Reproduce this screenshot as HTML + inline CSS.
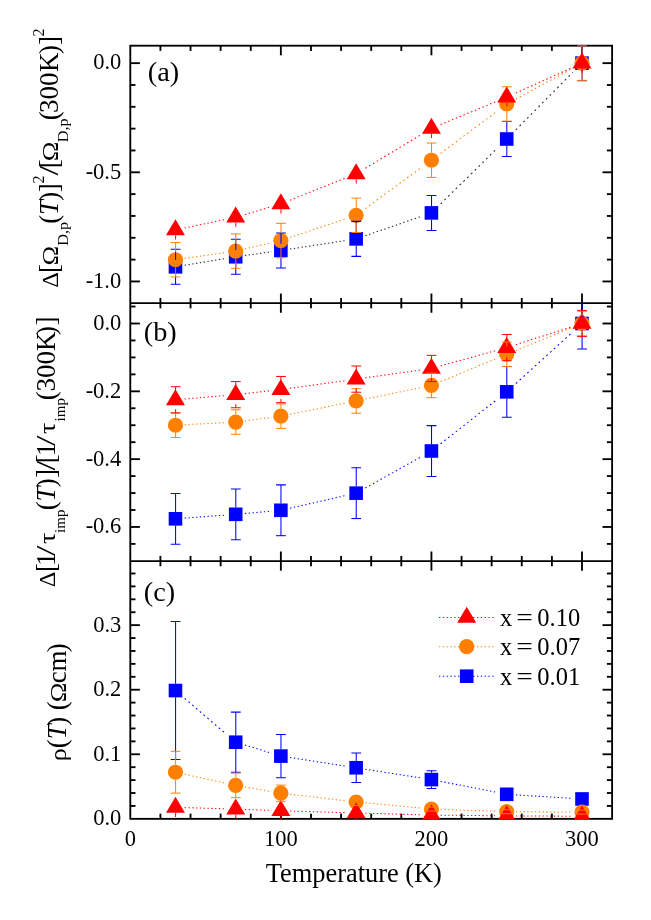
<!DOCTYPE html>
<html><head><meta charset="utf-8"><title>Figure</title>
<style>html,body{margin:0;padding:0;background:#fff;}body{width:651px;height:920px;position:relative;overflow:hidden;font-family:"Liberation Serif",serif;}</style>
</head><body>
<svg width="651" height="920" viewBox="0 0 651 920" style="display:block;position:absolute;left:0;top:0">
<rect x="0" y="0" width="651" height="920" fill="#fff"/>
<defs>
<clipPath id="ca"><rect x="130.3" y="45.10" width="481.8" height="259.05"/></clipPath>
<clipPath id="cb"><rect x="130.3" y="302.55" width="481.8" height="259.55"/></clipPath>
<clipPath id="cc"><rect x="130.3" y="560.50" width="481.8" height="259.35"/></clipPath>
</defs>
<g stroke="#000" stroke-width="1.85" fill="none" stroke-linecap="butt">
<rect x="130.3" y="45.7" width="481.8" height="773.15"/>
<line x1="130.3" x2="612.1" y1="303.15" y2="303.15"/>
<line x1="130.3" x2="612.1" y1="561.1" y2="561.1"/>
<line x1="160.41" x2="160.41" y1="45.7" y2="50.90"/>
<line x1="160.41" x2="160.41" y1="297.95" y2="308.35"/>
<line x1="160.41" x2="160.41" y1="555.90" y2="566.30"/>
<line x1="160.41" x2="160.41" y1="813.65" y2="818.85"/>
<line x1="190.53" x2="190.53" y1="45.7" y2="50.90"/>
<line x1="190.53" x2="190.53" y1="297.95" y2="308.35"/>
<line x1="190.53" x2="190.53" y1="555.90" y2="566.30"/>
<line x1="190.53" x2="190.53" y1="813.65" y2="818.85"/>
<line x1="220.64" x2="220.64" y1="45.7" y2="50.90"/>
<line x1="220.64" x2="220.64" y1="297.95" y2="308.35"/>
<line x1="220.64" x2="220.64" y1="555.90" y2="566.30"/>
<line x1="220.64" x2="220.64" y1="813.65" y2="818.85"/>
<line x1="250.75" x2="250.75" y1="45.7" y2="50.90"/>
<line x1="250.75" x2="250.75" y1="297.95" y2="308.35"/>
<line x1="250.75" x2="250.75" y1="555.90" y2="566.30"/>
<line x1="250.75" x2="250.75" y1="813.65" y2="818.85"/>
<line x1="280.86" x2="280.86" y1="45.7" y2="55.30"/>
<line x1="280.86" x2="280.86" y1="293.55" y2="312.75"/>
<line x1="280.86" x2="280.86" y1="551.50" y2="570.70"/>
<line x1="280.86" x2="280.86" y1="809.25" y2="818.85"/>
<line x1="310.98" x2="310.98" y1="45.7" y2="50.90"/>
<line x1="310.98" x2="310.98" y1="297.95" y2="308.35"/>
<line x1="310.98" x2="310.98" y1="555.90" y2="566.30"/>
<line x1="310.98" x2="310.98" y1="813.65" y2="818.85"/>
<line x1="341.09" x2="341.09" y1="45.7" y2="50.90"/>
<line x1="341.09" x2="341.09" y1="297.95" y2="308.35"/>
<line x1="341.09" x2="341.09" y1="555.90" y2="566.30"/>
<line x1="341.09" x2="341.09" y1="813.65" y2="818.85"/>
<line x1="371.20" x2="371.20" y1="45.7" y2="50.90"/>
<line x1="371.20" x2="371.20" y1="297.95" y2="308.35"/>
<line x1="371.20" x2="371.20" y1="555.90" y2="566.30"/>
<line x1="371.20" x2="371.20" y1="813.65" y2="818.85"/>
<line x1="401.31" x2="401.31" y1="45.7" y2="50.90"/>
<line x1="401.31" x2="401.31" y1="297.95" y2="308.35"/>
<line x1="401.31" x2="401.31" y1="555.90" y2="566.30"/>
<line x1="401.31" x2="401.31" y1="813.65" y2="818.85"/>
<line x1="431.43" x2="431.43" y1="45.7" y2="55.30"/>
<line x1="431.43" x2="431.43" y1="293.55" y2="312.75"/>
<line x1="431.43" x2="431.43" y1="551.50" y2="570.70"/>
<line x1="431.43" x2="431.43" y1="809.25" y2="818.85"/>
<line x1="461.54" x2="461.54" y1="45.7" y2="50.90"/>
<line x1="461.54" x2="461.54" y1="297.95" y2="308.35"/>
<line x1="461.54" x2="461.54" y1="555.90" y2="566.30"/>
<line x1="461.54" x2="461.54" y1="813.65" y2="818.85"/>
<line x1="491.65" x2="491.65" y1="45.7" y2="50.90"/>
<line x1="491.65" x2="491.65" y1="297.95" y2="308.35"/>
<line x1="491.65" x2="491.65" y1="555.90" y2="566.30"/>
<line x1="491.65" x2="491.65" y1="813.65" y2="818.85"/>
<line x1="521.76" x2="521.76" y1="45.7" y2="50.90"/>
<line x1="521.76" x2="521.76" y1="297.95" y2="308.35"/>
<line x1="521.76" x2="521.76" y1="555.90" y2="566.30"/>
<line x1="521.76" x2="521.76" y1="813.65" y2="818.85"/>
<line x1="551.88" x2="551.88" y1="45.7" y2="50.90"/>
<line x1="551.88" x2="551.88" y1="297.95" y2="308.35"/>
<line x1="551.88" x2="551.88" y1="555.90" y2="566.30"/>
<line x1="551.88" x2="551.88" y1="813.65" y2="818.85"/>
<line x1="581.99" x2="581.99" y1="45.7" y2="55.30"/>
<line x1="581.99" x2="581.99" y1="293.55" y2="312.75"/>
<line x1="581.99" x2="581.99" y1="551.50" y2="570.70"/>
<line x1="581.99" x2="581.99" y1="809.25" y2="818.85"/>
<line x1="130.3" x2="135.50" y1="84.98" y2="84.98"/>
<line x1="606.90" x2="612.1" y1="84.98" y2="84.98"/>
<line x1="130.3" x2="135.50" y1="106.81" y2="106.81"/>
<line x1="606.90" x2="612.1" y1="106.81" y2="106.81"/>
<line x1="130.3" x2="135.50" y1="128.64" y2="128.64"/>
<line x1="606.90" x2="612.1" y1="128.64" y2="128.64"/>
<line x1="130.3" x2="135.50" y1="150.47" y2="150.47"/>
<line x1="606.90" x2="612.1" y1="150.47" y2="150.47"/>
<line x1="130.3" x2="135.50" y1="194.13" y2="194.13"/>
<line x1="606.90" x2="612.1" y1="194.13" y2="194.13"/>
<line x1="130.3" x2="135.50" y1="215.96" y2="215.96"/>
<line x1="606.90" x2="612.1" y1="215.96" y2="215.96"/>
<line x1="130.3" x2="135.50" y1="237.79" y2="237.79"/>
<line x1="606.90" x2="612.1" y1="237.79" y2="237.79"/>
<line x1="130.3" x2="135.50" y1="259.62" y2="259.62"/>
<line x1="606.90" x2="612.1" y1="259.62" y2="259.62"/>
<line x1="130.3" x2="139.90" y1="63.15" y2="63.15"/>
<line x1="602.50" x2="612.1" y1="63.15" y2="63.15"/>
<line x1="130.3" x2="139.90" y1="172.30" y2="172.30"/>
<line x1="602.50" x2="612.1" y1="172.30" y2="172.30"/>
<line x1="130.3" x2="139.90" y1="281.45" y2="281.45"/>
<line x1="602.50" x2="612.1" y1="281.45" y2="281.45"/>
<line x1="130.3" x2="135.50" y1="306.55" y2="306.55"/>
<line x1="606.90" x2="612.1" y1="306.55" y2="306.55"/>
<line x1="130.3" x2="135.50" y1="340.45" y2="340.45"/>
<line x1="606.90" x2="612.1" y1="340.45" y2="340.45"/>
<line x1="130.3" x2="135.50" y1="357.41" y2="357.41"/>
<line x1="606.90" x2="612.1" y1="357.41" y2="357.41"/>
<line x1="130.3" x2="135.50" y1="374.37" y2="374.37"/>
<line x1="606.90" x2="612.1" y1="374.37" y2="374.37"/>
<line x1="130.3" x2="135.50" y1="408.27" y2="408.27"/>
<line x1="606.90" x2="612.1" y1="408.27" y2="408.27"/>
<line x1="130.3" x2="135.50" y1="425.23" y2="425.23"/>
<line x1="606.90" x2="612.1" y1="425.23" y2="425.23"/>
<line x1="130.3" x2="135.50" y1="442.19" y2="442.19"/>
<line x1="606.90" x2="612.1" y1="442.19" y2="442.19"/>
<line x1="130.3" x2="135.50" y1="476.10" y2="476.10"/>
<line x1="606.90" x2="612.1" y1="476.10" y2="476.10"/>
<line x1="130.3" x2="135.50" y1="493.05" y2="493.05"/>
<line x1="606.90" x2="612.1" y1="493.05" y2="493.05"/>
<line x1="130.3" x2="135.50" y1="510.00" y2="510.00"/>
<line x1="606.90" x2="612.1" y1="510.00" y2="510.00"/>
<line x1="130.3" x2="135.50" y1="543.91" y2="543.91"/>
<line x1="606.90" x2="612.1" y1="543.91" y2="543.91"/>
<line x1="130.3" x2="139.90" y1="323.50" y2="323.50"/>
<line x1="602.50" x2="612.1" y1="323.50" y2="323.50"/>
<line x1="130.3" x2="139.90" y1="391.32" y2="391.32"/>
<line x1="602.50" x2="612.1" y1="391.32" y2="391.32"/>
<line x1="130.3" x2="139.90" y1="459.14" y2="459.14"/>
<line x1="602.50" x2="612.1" y1="459.14" y2="459.14"/>
<line x1="130.3" x2="139.90" y1="526.96" y2="526.96"/>
<line x1="602.50" x2="612.1" y1="526.96" y2="526.96"/>
<line x1="130.3" x2="135.50" y1="805.94" y2="805.94"/>
<line x1="606.90" x2="612.1" y1="805.94" y2="805.94"/>
<line x1="130.3" x2="135.50" y1="793.02" y2="793.02"/>
<line x1="606.90" x2="612.1" y1="793.02" y2="793.02"/>
<line x1="130.3" x2="135.50" y1="780.11" y2="780.11"/>
<line x1="606.90" x2="612.1" y1="780.11" y2="780.11"/>
<line x1="130.3" x2="135.50" y1="767.19" y2="767.19"/>
<line x1="606.90" x2="612.1" y1="767.19" y2="767.19"/>
<line x1="130.3" x2="135.50" y1="741.37" y2="741.37"/>
<line x1="606.90" x2="612.1" y1="741.37" y2="741.37"/>
<line x1="130.3" x2="135.50" y1="728.45" y2="728.45"/>
<line x1="606.90" x2="612.1" y1="728.45" y2="728.45"/>
<line x1="130.3" x2="135.50" y1="715.54" y2="715.54"/>
<line x1="606.90" x2="612.1" y1="715.54" y2="715.54"/>
<line x1="130.3" x2="135.50" y1="702.62" y2="702.62"/>
<line x1="606.90" x2="612.1" y1="702.62" y2="702.62"/>
<line x1="130.3" x2="135.50" y1="676.80" y2="676.80"/>
<line x1="606.90" x2="612.1" y1="676.80" y2="676.80"/>
<line x1="130.3" x2="135.50" y1="663.88" y2="663.88"/>
<line x1="606.90" x2="612.1" y1="663.88" y2="663.88"/>
<line x1="130.3" x2="135.50" y1="650.97" y2="650.97"/>
<line x1="606.90" x2="612.1" y1="650.97" y2="650.97"/>
<line x1="130.3" x2="135.50" y1="638.05" y2="638.05"/>
<line x1="606.90" x2="612.1" y1="638.05" y2="638.05"/>
<line x1="130.3" x2="135.50" y1="612.23" y2="612.23"/>
<line x1="606.90" x2="612.1" y1="612.23" y2="612.23"/>
<line x1="130.3" x2="135.50" y1="599.31" y2="599.31"/>
<line x1="606.90" x2="612.1" y1="599.31" y2="599.31"/>
<line x1="130.3" x2="135.50" y1="586.40" y2="586.40"/>
<line x1="606.90" x2="612.1" y1="586.40" y2="586.40"/>
<line x1="130.3" x2="135.50" y1="573.48" y2="573.48"/>
<line x1="606.90" x2="612.1" y1="573.48" y2="573.48"/>
<line x1="130.3" x2="139.90" y1="754.28" y2="754.28"/>
<line x1="602.50" x2="612.1" y1="754.28" y2="754.28"/>
<line x1="130.3" x2="139.90" y1="689.71" y2="689.71"/>
<line x1="602.50" x2="612.1" y1="689.71" y2="689.71"/>
<line x1="130.3" x2="139.90" y1="625.14" y2="625.14"/>
<line x1="602.50" x2="612.1" y1="625.14" y2="625.14"/>
</g>
<g clip-path="url(#ca)">
<g stroke="#222222" stroke-width="1.05" fill="none"><line x1="184.67" y1="265.29" x2="226.49" y2="258.32" stroke-dasharray="1.32 2.53"/><line x1="244.89" y1="255.49" x2="271.66" y2="251.74" stroke-dasharray="1.31 2.52"/><line x1="290.06" y1="249.04" x2="346.94" y2="240.30" stroke-dasharray="1.32 2.53"/><line x1="365.34" y1="235.71" x2="422.23" y2="216.08" stroke-dasharray="1.38 2.64"/><line x1="440.62" y1="203.87" x2="497.51" y2="148.04" stroke-dasharray="1.82 3.50"/><line x1="515.84" y1="129.81" x2="572.86" y2="72.35" stroke-dasharray="1.83 3.52"/></g>
<rect x="168.67" y="260.02" width="13.6" height="13.6" fill="#0000ff"/>
<rect x="228.89" y="249.98" width="13.6" height="13.6" fill="#0000ff"/>
<rect x="274.06" y="243.65" width="13.6" height="13.6" fill="#0000ff"/>
<rect x="349.34" y="232.08" width="13.6" height="13.6" fill="#0000ff"/>
<rect x="424.62" y="206.10" width="13.6" height="13.6" fill="#0000ff"/>
<rect x="499.91" y="132.21" width="13.6" height="13.6" fill="#0000ff"/>
<rect x="575.19" y="56.35" width="13.6" height="13.6" fill="#0000ff"/>
<g stroke="#ff8000" stroke-width="1.05" fill="none"><line x1="184.67" y1="258.41" x2="226.49" y2="252.42" stroke-dasharray="1.31 2.53"/><line x1="244.89" y1="248.95" x2="271.66" y2="242.68" stroke-dasharray="1.34 2.57"/><line x1="290.06" y1="237.44" x2="346.94" y2="218.39" stroke-dasharray="1.37 2.64"/><line x1="365.34" y1="208.57" x2="422.23" y2="166.96" stroke-dasharray="1.61 3.10"/><line x1="440.62" y1="153.35" x2="497.51" y2="110.85" stroke-dasharray="1.62 3.12"/><line x1="515.91" y1="98.98" x2="572.79" y2="68.14" stroke-dasharray="1.48 2.84"/></g>
<circle cx="175.47" cy="259.73" r="7.6" fill="#ff8000"/>
<circle cx="235.69" cy="251.11" r="7.6" fill="#ff8000"/>
<circle cx="280.86" cy="240.52" r="7.6" fill="#ff8000"/>
<circle cx="356.14" cy="215.31" r="7.6" fill="#ff8000"/>
<circle cx="431.43" cy="160.23" r="7.6" fill="#ff8000"/>
<circle cx="506.71" cy="103.97" r="7.6" fill="#ff8000"/>
<circle cx="581.99" cy="63.15" r="7.6" fill="#ff8000"/>
<g stroke="#ff0000" stroke-width="1.05" fill="none"><line x1="184.67" y1="228.00" x2="226.49" y2="219.20" stroke-dasharray="1.33 2.55"/><line x1="244.89" y1="214.54" x2="271.66" y2="206.58" stroke-dasharray="1.36 2.61"/><line x1="290.06" y1="200.18" x2="346.94" y2="177.50" stroke-dasharray="1.40 2.69"/><line x1="365.34" y1="168.28" x2="422.23" y2="133.97" stroke-dasharray="1.52 2.92"/><line x1="440.62" y1="124.61" x2="497.51" y2="101.02" stroke-dasharray="1.41 2.71"/><line x1="515.91" y1="93.04" x2="572.79" y2="67.31" stroke-dasharray="1.43 2.74"/></g>
<g stroke="#0000ff" stroke-width="1.05" fill="none" opacity="1.0"><line x1="175.57" x2="175.57" y1="249.32" y2="260.02"/><line x1="175.57" x2="175.57" y1="273.62" y2="284.32"/><line x1="170.67" x2="180.47" y1="249.32" y2="249.32"/><line x1="170.67" x2="180.47" y1="284.32" y2="284.32"/></g>
<g stroke="#0000ff" stroke-width="1.05" fill="none" opacity="1.0"><line x1="235.79" x2="235.79" y1="239.28" y2="249.98"/><line x1="235.79" x2="235.79" y1="263.58" y2="274.28"/><line x1="230.89" x2="240.69" y1="239.28" y2="239.28"/><line x1="230.89" x2="240.69" y1="274.28" y2="274.28"/></g>
<g stroke="#0000ff" stroke-width="1.05" fill="none" opacity="1.0"><line x1="280.96" x2="280.96" y1="232.95" y2="243.65"/><line x1="280.96" x2="280.96" y1="257.25" y2="267.95"/><line x1="276.06" x2="285.86" y1="232.95" y2="232.95"/><line x1="276.06" x2="285.86" y1="267.95" y2="267.95"/></g>
<g stroke="#0000ff" stroke-width="1.05" fill="none" opacity="1.0"><line x1="356.24" x2="356.24" y1="221.38" y2="232.08"/><line x1="356.24" x2="356.24" y1="245.68" y2="256.38"/><line x1="351.34" x2="361.14" y1="221.38" y2="221.38"/><line x1="351.34" x2="361.14" y1="256.38" y2="256.38"/></g>
<g stroke="#0000ff" stroke-width="1.05" fill="none" opacity="1.0"><line x1="431.53" x2="431.53" y1="195.40" y2="206.10"/><line x1="431.53" x2="431.53" y1="219.70" y2="230.40"/><line x1="426.63" x2="436.43" y1="195.40" y2="195.40"/><line x1="426.63" x2="436.43" y1="230.40" y2="230.40"/></g>
<g stroke="#0000ff" stroke-width="1.05" fill="none" opacity="1.0"><line x1="506.81" x2="506.81" y1="121.51" y2="132.21"/><line x1="506.81" x2="506.81" y1="145.81" y2="156.51"/><line x1="501.91" x2="511.71" y1="121.51" y2="121.51"/><line x1="501.91" x2="511.71" y1="156.51" y2="156.51"/></g>
<g stroke="#0000ff" stroke-width="1.05" fill="none" opacity="1.0"><line x1="582.09" x2="582.09" y1="45.65" y2="56.35"/><line x1="582.09" x2="582.09" y1="69.95" y2="80.65"/><line x1="577.19" x2="586.99" y1="45.65" y2="45.65"/><line x1="577.19" x2="586.99" y1="80.65" y2="80.65"/></g>
<g stroke="#ff8000" stroke-width="1.05" fill="none" opacity="0.95"><line x1="175.57" x2="175.57" y1="242.53" y2="252.13"/><line x1="175.57" x2="175.57" y1="267.33" y2="276.93"/><line x1="170.67" x2="180.47" y1="242.53" y2="242.53"/><line x1="170.67" x2="180.47" y1="276.93" y2="276.93"/></g>
<g stroke="#ff8000" stroke-width="1.05" fill="none" opacity="0.95"><line x1="235.79" x2="235.79" y1="233.91" y2="243.51"/><line x1="235.79" x2="235.79" y1="258.71" y2="268.31"/><line x1="230.89" x2="240.69" y1="233.91" y2="233.91"/><line x1="230.89" x2="240.69" y1="268.31" y2="268.31"/></g>
<g stroke="#ff8000" stroke-width="1.05" fill="none" opacity="0.95"><line x1="280.96" x2="280.96" y1="223.32" y2="232.92"/><line x1="280.96" x2="280.96" y1="248.12" y2="257.72"/><line x1="276.06" x2="285.86" y1="223.32" y2="223.32"/><line x1="276.06" x2="285.86" y1="257.72" y2="257.72"/></g>
<g stroke="#ff8000" stroke-width="1.05" fill="none" opacity="0.95"><line x1="356.24" x2="356.24" y1="198.11" y2="207.71"/><line x1="356.24" x2="356.24" y1="222.91" y2="232.51"/><line x1="351.34" x2="361.14" y1="198.11" y2="198.11"/><line x1="351.34" x2="361.14" y1="232.51" y2="232.51"/></g>
<g stroke="#ff8000" stroke-width="1.05" fill="none" opacity="0.95"><line x1="431.53" x2="431.53" y1="143.03" y2="152.63"/><line x1="431.53" x2="431.53" y1="167.83" y2="177.43"/><line x1="426.63" x2="436.43" y1="143.03" y2="143.03"/><line x1="426.63" x2="436.43" y1="177.43" y2="177.43"/></g>
<g stroke="#ff8000" stroke-width="1.05" fill="none" opacity="0.95"><line x1="506.81" x2="506.81" y1="86.77" y2="96.37"/><line x1="506.81" x2="506.81" y1="111.57" y2="121.17"/><line x1="501.91" x2="511.71" y1="86.77" y2="86.77"/><line x1="501.91" x2="511.71" y1="121.17" y2="121.17"/></g>
<g stroke="#ff8000" stroke-width="1.05" fill="none" opacity="0.95"><line x1="582.09" x2="582.09" y1="45.95" y2="55.55"/><line x1="582.09" x2="582.09" y1="70.75" y2="80.35"/><line x1="577.19" x2="586.99" y1="45.95" y2="45.95"/><line x1="577.19" x2="586.99" y1="80.35" y2="80.35"/></g>
<polygon points="175.47,219.26 165.97,235.26 184.97,235.26" fill="#ff0000"/>
<polygon points="235.69,206.60 226.19,222.60 245.19,222.60" fill="#ff0000"/>
<polygon points="280.86,193.18 271.36,209.18 290.36,209.18" fill="#ff0000"/>
<polygon points="356.14,163.16 346.64,179.16 365.64,179.16" fill="#ff0000"/>
<polygon points="431.43,117.76 421.93,133.76 440.93,133.76" fill="#ff0000"/>
<polygon points="506.71,86.54 497.21,102.54 516.21,102.54" fill="#ff0000"/>
<polygon points="581.99,52.48 572.49,68.48 591.49,68.48" fill="#ff0000"/>
<g stroke="#ff0000" stroke-width="1.05" fill="none" opacity="0.95"><line x1="175.57" x2="175.57" y1="235.26" y2="239.53"/></g>
<g stroke="#ff0000" stroke-width="1.05" fill="none" opacity="0.95"><line x1="235.79" x2="235.79" y1="222.60" y2="226.87"/></g>
<g stroke="#ff0000" stroke-width="1.05" fill="none" opacity="0.95"><line x1="280.96" x2="280.96" y1="209.18" y2="213.44"/></g>
<g stroke="#ff0000" stroke-width="1.05" fill="none" opacity="0.95"><line x1="356.24" x2="356.24" y1="179.16" y2="183.43"/></g>
<g stroke="#ff0000" stroke-width="1.05" fill="none" opacity="0.95"><line x1="431.53" x2="431.53" y1="133.76" y2="138.02"/></g>
<g stroke="#ff0000" stroke-width="1.05" fill="none" opacity="0.95"><line x1="506.81" x2="506.81" y1="102.54" y2="106.80"/></g>
<g stroke="#ff0000" stroke-width="1.05" fill="none" opacity="0.95"><line x1="582.09" x2="582.09" y1="68.48" y2="72.75"/></g>
</g>
<g clip-path="url(#cb)">
<g stroke="#0000ff" stroke-width="1.05" fill="none"><line x1="184.67" y1="518.13" x2="226.49" y2="515.00" stroke-dasharray="1.30 2.51"/><line x1="244.89" y1="513.49" x2="271.66" y2="511.10" stroke-dasharray="1.31 2.51"/><line x1="290.06" y1="508.18" x2="346.94" y2="495.24" stroke-dasharray="1.33 2.56"/><line x1="365.34" y1="488.00" x2="422.23" y2="456.15" stroke-dasharray="1.49 2.87"/><line x1="440.62" y1="443.77" x2="497.51" y2="399.09" stroke-dasharray="1.65 3.18"/><line x1="515.91" y1="383.51" x2="572.79" y2="331.85" stroke-dasharray="1.76 3.38"/></g>
<rect x="168.67" y="512.02" width="13.6" height="13.6" fill="#0000ff"/>
<rect x="228.89" y="507.51" width="13.6" height="13.6" fill="#0000ff"/>
<rect x="274.06" y="503.48" width="13.6" height="13.6" fill="#0000ff"/>
<rect x="349.34" y="486.35" width="13.6" height="13.6" fill="#0000ff"/>
<rect x="424.62" y="444.20" width="13.6" height="13.6" fill="#0000ff"/>
<rect x="499.91" y="385.06" width="13.6" height="13.6" fill="#0000ff"/>
<rect x="575.19" y="316.70" width="13.6" height="13.6" fill="#0000ff"/>
<g stroke="#ff8000" stroke-width="1.05" fill="none"><line x1="184.67" y1="424.74" x2="226.49" y2="422.53" stroke-dasharray="1.30 2.50"/><line x1="244.89" y1="420.84" x2="271.66" y2="417.34" stroke-dasharray="1.31 2.52"/><line x1="290.06" y1="414.29" x2="346.94" y2="402.81" stroke-dasharray="1.33 2.55"/><line x1="365.34" y1="399.06" x2="422.23" y2="387.35" stroke-dasharray="1.33 2.55"/><line x1="440.62" y1="381.64" x2="497.51" y2="358.04" stroke-dasharray="1.41 2.71"/><line x1="515.91" y1="350.47" x2="572.79" y2="327.25" stroke-dasharray="1.40 2.70"/></g>
<circle cx="175.47" cy="425.23" r="7.6" fill="#ff8000"/>
<circle cx="235.69" cy="422.04" r="7.6" fill="#ff8000"/>
<circle cx="280.86" cy="416.14" r="7.6" fill="#ff8000"/>
<circle cx="356.14" cy="400.95" r="7.6" fill="#ff8000"/>
<circle cx="431.43" cy="385.45" r="7.6" fill="#ff8000"/>
<circle cx="506.71" cy="354.22" r="7.6" fill="#ff8000"/>
<circle cx="581.99" cy="323.50" r="7.6" fill="#ff8000"/>
<g stroke="#ff0000" stroke-width="1.05" fill="none"><line x1="184.67" y1="399.01" x2="226.49" y2="395.43" stroke-dasharray="1.30 2.51"/><line x1="244.89" y1="393.61" x2="271.66" y2="390.59" stroke-dasharray="1.31 2.52"/><line x1="290.06" y1="388.28" x2="346.94" y2="380.39" stroke-dasharray="1.31 2.52"/><line x1="365.34" y1="377.81" x2="422.23" y2="369.77" stroke-dasharray="1.31 2.52"/><line x1="440.62" y1="365.91" x2="497.51" y2="350.13" stroke-dasharray="1.35 2.59"/><line x1="515.91" y1="344.63" x2="572.79" y2="326.44" stroke-dasharray="1.36 2.62"/></g>
<polygon points="175.47,389.13 165.97,405.13 184.97,405.13" fill="#ff0000"/>
<polygon points="235.69,383.98 226.19,399.98 245.19,399.98" fill="#ff0000"/>
<polygon points="280.86,378.89 271.36,394.89 290.36,394.89" fill="#ff0000"/>
<polygon points="356.14,368.45 346.64,384.45 365.64,384.45" fill="#ff0000"/>
<polygon points="431.43,357.80 421.93,373.80 440.93,373.80" fill="#ff0000"/>
<polygon points="506.71,336.91 497.21,352.91 516.21,352.91" fill="#ff0000"/>
<polygon points="581.99,312.83 572.49,328.83 591.49,328.83" fill="#ff0000"/>
<g stroke="#0000ff" stroke-width="1.05" fill="none" opacity="1.0"><line x1="175.57" x2="175.57" y1="493.42" y2="512.02"/><line x1="175.57" x2="175.57" y1="525.62" y2="544.22"/><line x1="170.67" x2="180.47" y1="493.42" y2="493.42"/><line x1="170.67" x2="180.47" y1="544.22" y2="544.22"/></g>
<g stroke="#0000ff" stroke-width="1.05" fill="none" opacity="1.0"><line x1="235.79" x2="235.79" y1="488.91" y2="507.51"/><line x1="235.79" x2="235.79" y1="521.11" y2="539.71"/><line x1="230.89" x2="240.69" y1="488.91" y2="488.91"/><line x1="230.89" x2="240.69" y1="539.71" y2="539.71"/></g>
<g stroke="#0000ff" stroke-width="1.05" fill="none" opacity="1.0"><line x1="280.96" x2="280.96" y1="484.88" y2="503.48"/><line x1="280.96" x2="280.96" y1="517.08" y2="535.68"/><line x1="276.06" x2="285.86" y1="484.88" y2="484.88"/><line x1="276.06" x2="285.86" y1="535.68" y2="535.68"/></g>
<g stroke="#0000ff" stroke-width="1.05" fill="none" opacity="1.0"><line x1="356.24" x2="356.24" y1="467.75" y2="486.35"/><line x1="356.24" x2="356.24" y1="499.95" y2="518.55"/><line x1="351.34" x2="361.14" y1="467.75" y2="467.75"/><line x1="351.34" x2="361.14" y1="518.55" y2="518.55"/></g>
<g stroke="#0000ff" stroke-width="1.05" fill="none" opacity="1.0"><line x1="431.53" x2="431.53" y1="425.60" y2="444.20"/><line x1="431.53" x2="431.53" y1="457.80" y2="476.40"/><line x1="426.63" x2="436.43" y1="425.60" y2="425.60"/><line x1="426.63" x2="436.43" y1="476.40" y2="476.40"/></g>
<g stroke="#0000ff" stroke-width="1.05" fill="none" opacity="1.0"><line x1="506.81" x2="506.81" y1="366.46" y2="385.06"/><line x1="506.81" x2="506.81" y1="398.66" y2="417.26"/><line x1="501.91" x2="511.71" y1="366.46" y2="366.46"/><line x1="501.91" x2="511.71" y1="417.26" y2="417.26"/></g>
<g stroke="#0000ff" stroke-width="1.05" fill="none" opacity="1.0"><line x1="582.09" x2="582.09" y1="298.10" y2="316.70"/><line x1="582.09" x2="582.09" y1="330.30" y2="348.90"/><line x1="577.19" x2="586.99" y1="298.10" y2="298.10"/><line x1="577.19" x2="586.99" y1="348.90" y2="348.90"/></g>
<g stroke="#ff8000" stroke-width="1.05" fill="none" opacity="0.95"><line x1="175.57" x2="175.57" y1="412.98" y2="417.63"/><line x1="175.57" x2="175.57" y1="432.83" y2="437.48"/><line x1="170.67" x2="180.47" y1="412.98" y2="412.98"/><line x1="170.67" x2="180.47" y1="437.48" y2="437.48"/></g>
<g stroke="#ff8000" stroke-width="1.05" fill="none" opacity="0.95"><line x1="235.79" x2="235.79" y1="409.79" y2="414.44"/><line x1="235.79" x2="235.79" y1="429.64" y2="434.29"/><line x1="230.89" x2="240.69" y1="409.79" y2="409.79"/><line x1="230.89" x2="240.69" y1="434.29" y2="434.29"/></g>
<g stroke="#ff8000" stroke-width="1.05" fill="none" opacity="0.95"><line x1="280.96" x2="280.96" y1="403.89" y2="408.54"/><line x1="280.96" x2="280.96" y1="423.74" y2="428.39"/><line x1="276.06" x2="285.86" y1="403.89" y2="403.89"/><line x1="276.06" x2="285.86" y1="428.39" y2="428.39"/></g>
<g stroke="#ff8000" stroke-width="1.05" fill="none" opacity="0.95"><line x1="356.24" x2="356.24" y1="388.70" y2="393.35"/><line x1="356.24" x2="356.24" y1="408.55" y2="413.20"/><line x1="351.34" x2="361.14" y1="388.70" y2="388.70"/><line x1="351.34" x2="361.14" y1="413.20" y2="413.20"/></g>
<g stroke="#ff8000" stroke-width="1.05" fill="none" opacity="0.95"><line x1="431.53" x2="431.53" y1="373.20" y2="377.85"/><line x1="431.53" x2="431.53" y1="393.05" y2="397.70"/><line x1="426.63" x2="436.43" y1="373.20" y2="373.20"/><line x1="426.63" x2="436.43" y1="397.70" y2="397.70"/></g>
<g stroke="#ff8000" stroke-width="1.05" fill="none" opacity="0.95"><line x1="506.81" x2="506.81" y1="341.97" y2="346.62"/><line x1="506.81" x2="506.81" y1="361.82" y2="366.47"/><line x1="501.91" x2="511.71" y1="341.97" y2="341.97"/><line x1="501.91" x2="511.71" y1="366.47" y2="366.47"/></g>
<g stroke="#ff8000" stroke-width="1.05" fill="none" opacity="0.95"><line x1="582.09" x2="582.09" y1="311.25" y2="315.90"/><line x1="582.09" x2="582.09" y1="331.10" y2="335.75"/><line x1="577.19" x2="586.99" y1="311.25" y2="311.25"/><line x1="577.19" x2="586.99" y1="335.75" y2="335.75"/></g>
<g stroke="#ff0000" stroke-width="1.05" fill="none" opacity="0.95"><line x1="175.57" x2="175.57" y1="386.70" y2="390.30"/><line x1="175.57" x2="175.57" y1="409.30" y2="412.90"/><line x1="170.67" x2="180.47" y1="386.70" y2="386.70"/><line x1="170.67" x2="180.47" y1="412.90" y2="412.90"/></g>
<g stroke="#ff0000" stroke-width="1.05" fill="none" opacity="0.95"><line x1="235.79" x2="235.79" y1="381.54" y2="385.14"/><line x1="235.79" x2="235.79" y1="404.14" y2="407.74"/><line x1="230.89" x2="240.69" y1="381.54" y2="381.54"/><line x1="230.89" x2="240.69" y1="407.74" y2="407.74"/></g>
<g stroke="#ff0000" stroke-width="1.05" fill="none" opacity="0.95"><line x1="280.96" x2="280.96" y1="376.46" y2="380.06"/><line x1="280.96" x2="280.96" y1="399.06" y2="402.66"/><line x1="276.06" x2="285.86" y1="376.46" y2="376.46"/><line x1="276.06" x2="285.86" y1="402.66" y2="402.66"/></g>
<g stroke="#ff0000" stroke-width="1.05" fill="none" opacity="0.95"><line x1="356.24" x2="356.24" y1="366.01" y2="369.61"/><line x1="356.24" x2="356.24" y1="388.61" y2="392.21"/><line x1="351.34" x2="361.14" y1="366.01" y2="366.01"/><line x1="351.34" x2="361.14" y1="392.21" y2="392.21"/></g>
<g stroke="#ff0000" stroke-width="1.05" fill="none" opacity="0.95"><line x1="431.53" x2="431.53" y1="355.36" y2="358.96"/><line x1="431.53" x2="431.53" y1="377.96" y2="381.56"/><line x1="426.63" x2="436.43" y1="355.36" y2="355.36"/><line x1="426.63" x2="436.43" y1="381.56" y2="381.56"/></g>
<g stroke="#ff0000" stroke-width="1.05" fill="none" opacity="0.95"><line x1="506.81" x2="506.81" y1="334.48" y2="338.08"/><line x1="506.81" x2="506.81" y1="357.08" y2="360.68"/><line x1="501.91" x2="511.71" y1="334.48" y2="334.48"/><line x1="501.91" x2="511.71" y1="360.68" y2="360.68"/></g>
<g stroke="#ff0000" stroke-width="1.05" fill="none" opacity="0.95"><line x1="582.09" x2="582.09" y1="310.40" y2="314.00"/><line x1="582.09" x2="582.09" y1="333.00" y2="336.60"/><line x1="577.19" x2="586.99" y1="310.40" y2="310.40"/><line x1="577.19" x2="586.99" y1="336.60" y2="336.60"/></g>
</g>
<g clip-path="url(#cc)">
<g stroke="#0000ff" stroke-width="1.05" fill="none"><line x1="184.67" y1="698.44" x2="226.49" y2="734.31" stroke-dasharray="1.71 3.29"/><line x1="244.89" y1="745.03" x2="271.66" y2="753.26" stroke-dasharray="1.36 2.62"/><line x1="290.06" y1="757.52" x2="346.94" y2="766.35" stroke-dasharray="1.32 2.53"/><line x1="365.34" y1="769.22" x2="422.23" y2="778.15" stroke-dasharray="1.32 2.53"/><line x1="440.62" y1="781.39" x2="497.51" y2="792.51" stroke-dasharray="1.32 2.55"/><line x1="515.91" y1="794.88" x2="572.79" y2="798.39" stroke-dasharray="1.30 2.50"/></g>
<rect x="168.67" y="683.75" width="13.6" height="13.6" fill="#0000ff"/>
<rect x="228.89" y="735.41" width="13.6" height="13.6" fill="#0000ff"/>
<rect x="274.06" y="749.29" width="13.6" height="13.6" fill="#0000ff"/>
<rect x="349.34" y="760.98" width="13.6" height="13.6" fill="#0000ff"/>
<rect x="424.62" y="772.79" width="13.6" height="13.6" fill="#0000ff"/>
<rect x="499.91" y="787.51" width="13.6" height="13.6" fill="#0000ff"/>
<rect x="575.19" y="792.16" width="13.6" height="13.6" fill="#0000ff"/>
<g stroke="#ff8000" stroke-width="1.05" fill="none"><line x1="184.67" y1="774.24" x2="226.49" y2="783.39" stroke-dasharray="1.33 2.56"/><line x1="244.89" y1="786.99" x2="271.66" y2="791.62" stroke-dasharray="1.32 2.54"/><line x1="290.06" y1="794.29" x2="346.94" y2="800.92" stroke-dasharray="1.31 2.52"/><line x1="365.34" y1="802.86" x2="422.23" y2="808.18" stroke-dasharray="1.31 2.51"/><line x1="440.62" y1="809.36" x2="497.51" y2="811.36" stroke-dasharray="1.30 2.50"/><line x1="515.91" y1="811.73" x2="572.79" y2="812.02" stroke-dasharray="1.30 2.50"/></g>
<circle cx="175.47" cy="772.23" r="7.6" fill="#ff8000"/>
<circle cx="235.69" cy="785.40" r="7.6" fill="#ff8000"/>
<circle cx="280.86" cy="793.22" r="7.6" fill="#ff8000"/>
<circle cx="356.14" cy="802.00" r="7.6" fill="#ff8000"/>
<circle cx="431.43" cy="809.04" r="7.6" fill="#ff8000"/>
<circle cx="506.71" cy="811.68" r="7.6" fill="#ff8000"/>
<circle cx="581.99" cy="812.07" r="7.6" fill="#ff8000"/>
<g stroke="#ff0000" stroke-width="1.05" fill="none"><line x1="184.67" y1="807.62" x2="226.49" y2="808.83" stroke-dasharray="1.30 2.50"/><line x1="244.89" y1="809.44" x2="271.66" y2="810.44" stroke-dasharray="1.30 2.50"/><line x1="290.06" y1="811.05" x2="346.94" y2="812.71" stroke-dasharray="1.30 2.50"/><line x1="365.34" y1="813.23" x2="422.23" y2="814.79" stroke-dasharray="1.30 2.50"/><line x1="440.62" y1="815.14" x2="497.51" y2="815.78" stroke-dasharray="1.30 2.50"/><line x1="515.91" y1="815.93" x2="572.79" y2="816.22" stroke-dasharray="1.30 2.50"/></g>
<polygon points="175.47,796.69 165.97,812.69 184.97,812.69" fill="#ff0000"/>
<polygon points="235.69,798.43 226.19,814.43 245.19,814.43" fill="#ff0000"/>
<polygon points="280.86,800.11 271.36,816.11 290.36,816.11" fill="#ff0000"/>
<polygon points="356.14,802.31 346.64,818.31 365.64,818.31" fill="#ff0000"/>
<polygon points="431.43,804.37 421.93,820.37 440.93,820.37" fill="#ff0000"/>
<polygon points="506.71,805.21 497.21,821.21 516.21,821.21" fill="#ff0000"/>
<polygon points="581.99,805.60 572.49,821.60 591.49,821.60" fill="#ff0000"/>
<g stroke="#0000ff" stroke-width="1.05" fill="none" opacity="1.0"><line x1="175.57" x2="175.57" y1="621.55" y2="683.75"/><line x1="175.57" x2="175.57" y1="697.35" y2="759.55"/><line x1="170.67" x2="180.47" y1="621.55" y2="621.55"/><line x1="170.67" x2="180.47" y1="759.55" y2="759.55"/></g>
<g stroke="#0000ff" stroke-width="1.05" fill="none" opacity="1.0"><line x1="235.79" x2="235.79" y1="712.11" y2="735.41"/><line x1="235.79" x2="235.79" y1="749.01" y2="772.31"/><line x1="230.89" x2="240.69" y1="712.11" y2="712.11"/><line x1="230.89" x2="240.69" y1="772.31" y2="772.31"/></g>
<g stroke="#0000ff" stroke-width="1.05" fill="none" opacity="1.0"><line x1="280.96" x2="280.96" y1="734.49" y2="749.29"/><line x1="280.96" x2="280.96" y1="762.89" y2="777.69"/><line x1="276.06" x2="285.86" y1="734.49" y2="734.49"/><line x1="276.06" x2="285.86" y1="777.69" y2="777.69"/></g>
<g stroke="#0000ff" stroke-width="1.05" fill="none" opacity="1.0"><line x1="356.24" x2="356.24" y1="753.03" y2="760.98"/><line x1="356.24" x2="356.24" y1="774.58" y2="782.53"/><line x1="351.34" x2="361.14" y1="753.03" y2="753.03"/><line x1="351.34" x2="361.14" y1="782.53" y2="782.53"/></g>
<g stroke="#0000ff" stroke-width="1.05" fill="none" opacity="1.0"><line x1="431.53" x2="431.53" y1="770.69" y2="772.79"/><line x1="431.53" x2="431.53" y1="786.39" y2="788.49"/><line x1="426.63" x2="436.43" y1="770.69" y2="770.69"/><line x1="426.63" x2="436.43" y1="788.49" y2="788.49"/></g>
<g stroke="#0000ff" stroke-width="1.05" fill="none" opacity="1.0"><line x1="501.91" x2="511.71" y1="791.31" y2="791.31"/><line x1="501.91" x2="511.71" y1="797.31" y2="797.31"/></g>
<g stroke="#0000ff" stroke-width="1.05" fill="none" opacity="1.0"><line x1="577.19" x2="586.99" y1="795.96" y2="795.96"/><line x1="577.19" x2="586.99" y1="801.96" y2="801.96"/></g>
<g stroke="#ff8000" stroke-width="1.05" fill="none" opacity="0.95"><line x1="175.57" x2="175.57" y1="751.33" y2="764.63"/><line x1="175.57" x2="175.57" y1="779.83" y2="793.13"/><line x1="170.67" x2="180.47" y1="751.33" y2="751.33"/><line x1="170.67" x2="180.47" y1="793.13" y2="793.13"/></g>
<g stroke="#ff8000" stroke-width="1.05" fill="none" opacity="0.95"><line x1="235.79" x2="235.79" y1="773.15" y2="777.80"/><line x1="235.79" x2="235.79" y1="793.00" y2="797.65"/><line x1="230.89" x2="240.69" y1="773.15" y2="773.15"/><line x1="230.89" x2="240.69" y1="797.65" y2="797.65"/></g>
<g stroke="#ff8000" stroke-width="1.05" fill="none" opacity="0.95"><line x1="280.96" x2="280.96" y1="785.12" y2="785.62"/><line x1="280.96" x2="280.96" y1="800.82" y2="801.32"/><line x1="276.06" x2="285.86" y1="785.12" y2="785.12"/><line x1="276.06" x2="285.86" y1="801.32" y2="801.32"/></g>
<g stroke="#ff8000" stroke-width="1.05" fill="none" opacity="0.95"><line x1="351.34" x2="361.14" y1="798.50" y2="798.50"/><line x1="351.34" x2="361.14" y1="805.50" y2="805.50"/></g>
<g stroke="#ff8000" stroke-width="1.05" fill="none" opacity="0.95"><line x1="426.63" x2="436.43" y1="807.04" y2="807.04"/><line x1="426.63" x2="436.43" y1="811.04" y2="811.04"/></g>
<g stroke="#ff8000" stroke-width="1.05" fill="none" opacity="0.95"><line x1="501.91" x2="511.71" y1="809.68" y2="809.68"/><line x1="501.91" x2="511.71" y1="813.68" y2="813.68"/></g>
<g stroke="#ff8000" stroke-width="1.05" fill="none" opacity="0.95"><line x1="577.19" x2="586.99" y1="810.07" y2="810.07"/><line x1="577.19" x2="586.99" y1="814.07" y2="814.07"/></g>
<g stroke="#ff0000" stroke-width="1.05" fill="none" opacity="0.95"><line x1="175.57" x2="175.57" y1="812.69" y2="816.96"/></g>
<g stroke="#ff0000" stroke-width="1.05" fill="none" opacity="0.95"><line x1="235.79" x2="235.79" y1="814.43" y2="818.70"/></g>
<g stroke="#ff0000" stroke-width="1.05" fill="none" opacity="0.95"><line x1="280.96" x2="280.96" y1="816.11" y2="820.38"/></g>
<g stroke="#ff0000" stroke-width="1.05" fill="none" opacity="0.95"><line x1="356.24" x2="356.24" y1="818.31" y2="822.57"/></g>
<g stroke="#ff0000" stroke-width="1.05" fill="none" opacity="0.95"><line x1="431.53" x2="431.53" y1="820.37" y2="824.64"/></g>
<g stroke="#ff0000" stroke-width="1.05" fill="none" opacity="0.95"><line x1="506.81" x2="506.81" y1="821.21" y2="825.48"/></g>
<g stroke="#ff0000" stroke-width="1.05" fill="none" opacity="0.95"><line x1="582.09" x2="582.09" y1="821.60" y2="825.87"/></g>
</g>
<line x1="439.0" x2="494.3" y1="617.4" y2="617.4" stroke="#ff0000" stroke-width="1.05" stroke-dasharray="1.3 2.5"/>
<polygon points="466.70,606.73 457.20,622.73 476.20,622.73" fill="#ff0000"/>
<line x1="439.0" x2="494.3" y1="646.7" y2="646.7" stroke="#ff8000" stroke-width="1.05" stroke-dasharray="1.3 2.5"/>
<circle cx="466.70" cy="646.70" r="7.6" fill="#ff8000"/>
<line x1="439.0" x2="494.3" y1="676.2" y2="676.2" stroke="#0000ff" stroke-width="1.05" stroke-dasharray="1.3 2.5"/>
<rect x="459.90" y="669.40" width="13.6" height="13.6" fill="#0000ff"/>
<g font-family="Liberation Serif, serif" fill="#000" opacity="0.999">
<text x="500.08" y="626.00" font-size="24.5" text-anchor="start">x</text>
<text transform="translate(516.34,626.0) scale(1.2,1)" font-size="24.5">=</text>
<text x="537.27" y="626.00" font-size="24.5" text-anchor="start">0.10</text>
<text x="500.08" y="655.30" font-size="24.5" text-anchor="start">x</text>
<text transform="translate(516.34,655.3) scale(1.2,1)" font-size="24.5">=</text>
<text x="537.27" y="655.30" font-size="24.5" text-anchor="start">0.07</text>
<text x="500.08" y="684.80" font-size="24.5" text-anchor="start">x</text>
<text transform="translate(516.34,684.8) scale(1.2,1)" font-size="24.5">=</text>
<text x="537.27" y="684.80" font-size="24.5" text-anchor="start">0.01</text>
<text transform="translate(130.30,845.55) scale(1,1.045)" font-size="22.5" text-anchor="middle">0</text>
<text transform="translate(280.86,845.55) scale(1,1.045)" font-size="22.5" text-anchor="middle">100</text>
<text transform="translate(431.43,845.55) scale(1,1.045)" font-size="22.5" text-anchor="middle">200</text>
<text transform="translate(581.99,845.55) scale(1,1.045)" font-size="22.5" text-anchor="middle">300</text>
<text x="121.25" y="68.90" font-size="22.5" text-anchor="end">0.0</text>
<text x="121.25" y="178.50" font-size="22.5" text-anchor="end">-0.5</text>
<text x="121.25" y="287.55" font-size="22.5" text-anchor="end">-1.0</text>
<text x="121.25" y="330.00" font-size="22.5" text-anchor="end">0.0</text>
<text x="121.25" y="397.82" font-size="22.5" text-anchor="end">-0.2</text>
<text x="121.25" y="465.64" font-size="22.5" text-anchor="end">-0.4</text>
<text x="121.25" y="533.46" font-size="22.5" text-anchor="end">-0.6</text>
<text x="121.25" y="825.35" font-size="22.5" text-anchor="end">0.0</text>
<text x="121.25" y="760.78" font-size="22.5" text-anchor="end">0.1</text>
<text x="121.25" y="696.21" font-size="22.5" text-anchor="end">0.2</text>
<text x="121.25" y="631.64" font-size="22.5" text-anchor="end">0.3</text>
<text x="147.86" y="81.00" font-size="28.3" text-anchor="start">(a)</text>
<text x="143.76" y="340.70" font-size="28.3" text-anchor="start">(b)</text>
<text x="143.76" y="601.30" font-size="28.3" text-anchor="start">(c)</text>
<text x="265.72" y="881.50" font-size="26.4" text-anchor="start">Temperature (K)</text>
<text transform="translate(58.00,287.83) rotate(-90) scale(1.03,1)" font-size="23.7">&#916;</text>
<text transform="translate(58.00,272.90) rotate(-90) scale(1,1)" font-size="27.0">[</text>
<text transform="translate(58.00,265.57) rotate(-90) scale(1.12,1)" font-size="23.7">&#937;</text>
<text transform="translate(67.80,245.77) rotate(-90) scale(1.06,1)" font-size="15.3">D,p</text>
<text transform="translate(58.00,223.69) rotate(-90) scale(1,1)" font-size="27.0">(</text>
<text transform="translate(58.00,215.07) rotate(-90) scale(1,1)" font-size="27.0" font-style="italic">T</text>
<text transform="translate(58.00,200.87) rotate(-90) scale(1,1)" font-size="27.0">)</text>
<text transform="translate(58.00,192.18) rotate(-90) scale(1,1)" font-size="27.0">]</text>
<text transform="translate(43.90,183.60) rotate(-90) scale(1,1)" font-size="16.0">2</text>
<text transform="translate(58.00,175.50) rotate(-90) scale(1.3,1)" font-size="27.0">/</text>
<text transform="translate(58.00,168.30) rotate(-90) scale(1,1)" font-size="27.0">[</text>
<text transform="translate(58.00,161.17) rotate(-90) scale(1.12,1)" font-size="23.7">&#937;</text>
<text transform="translate(67.80,142.27) rotate(-90) scale(1.06,1)" font-size="15.3">D,p</text>
<text transform="translate(58.00,120.19) rotate(-90) scale(1,1)" font-size="27.0">(</text>
<text transform="translate(58.00,112.89) rotate(-90) scale(1,1)" font-size="27.0">300</text>
<text transform="translate(58.00,71.88) rotate(-90) scale(1,1)" font-size="27.0">K</text>
<text transform="translate(58.00,54.07) rotate(-90) scale(1,1)" font-size="27.0">)</text>
<text transform="translate(58.00,44.88) rotate(-90) scale(1,1)" font-size="27.0">]</text>
<text transform="translate(43.90,36.50) rotate(-90) scale(1,1)" font-size="16.0">2</text>
<text transform="translate(55.20,587.33) rotate(-90) scale(1.03,1)" font-size="23.7">&#916;</text>
<text transform="translate(55.20,572.10) rotate(-90) scale(1,1)" font-size="27.0">[</text>
<text transform="translate(55.20,565.97) rotate(-90) scale(1,1)" font-size="27.0">1</text>
<text transform="translate(55.20,556.00) rotate(-90) scale(1.4,1)" font-size="27.0">/</text>
<text transform="translate(55.20,544.12) rotate(-90) scale(1.2,1)" font-size="23.7">&#964;</text>
<text transform="translate(65.30,532.91) rotate(-90) scale(1,1)" font-size="15.0">imp</text>
<text transform="translate(55.20,510.19) rotate(-90) scale(1,1)" font-size="27.0">(</text>
<text transform="translate(55.20,501.57) rotate(-90) scale(1,1)" font-size="27.0" font-style="italic">T</text>
<text transform="translate(55.20,487.17) rotate(-90) scale(1,1)" font-size="27.0">)</text>
<text transform="translate(55.20,478.08) rotate(-90) scale(1,1)" font-size="27.0">]</text>
<text transform="translate(55.20,470.50) rotate(-90) scale(1.3,1)" font-size="27.0">/</text>
<text transform="translate(55.20,463.20) rotate(-90) scale(1,1)" font-size="27.0">[</text>
<text transform="translate(55.20,456.17) rotate(-90) scale(1,1)" font-size="27.0">1</text>
<text transform="translate(55.20,446.00) rotate(-90) scale(1.4,1)" font-size="27.0">/</text>
<text transform="translate(55.20,434.12) rotate(-90) scale(1.2,1)" font-size="23.7">&#964;</text>
<text transform="translate(65.30,421.41) rotate(-90) scale(1,1)" font-size="15.0">imp</text>
<text transform="translate(55.20,400.19) rotate(-90) scale(1,1)" font-size="27.0">(</text>
<text transform="translate(55.20,391.49) rotate(-90) scale(1,1)" font-size="27.0">300</text>
<text transform="translate(55.20,350.98) rotate(-90) scale(1,1)" font-size="27.0">K</text>
<text transform="translate(55.20,334.97) rotate(-90) scale(1,1)" font-size="27.0">)</text>
<text transform="translate(55.20,325.48) rotate(-90) scale(1,1)" font-size="27.0">]</text>
<text transform="translate(66.00,761.28) rotate(-90) scale(1.1,1)" font-size="23.7">&#961;</text>
<text transform="translate(66.00,748.19) rotate(-90) scale(1,1)" font-size="27.0">(</text>
<text transform="translate(66.00,739.17) rotate(-90) scale(1,1)" font-size="27.0" font-style="italic">T</text>
<text transform="translate(66.00,725.67) rotate(-90) scale(1,1)" font-size="27.0">)</text>
<text transform="translate(66.00,710.19) rotate(-90) scale(1,1)" font-size="27.0">(</text>
<text transform="translate(66.00,702.27) rotate(-90) scale(1.12,1)" font-size="23.7">&#937;</text>
<text transform="translate(66.00,683.23) rotate(-90) scale(1,1)" font-size="27.0">c</text>
<text transform="translate(66.00,671.47) rotate(-90) scale(1,1)" font-size="27.0">m</text>
<text transform="translate(66.00,652.27) rotate(-90) scale(1,1)" font-size="27.0">)</text>
</g>
</svg>
</body></html>
